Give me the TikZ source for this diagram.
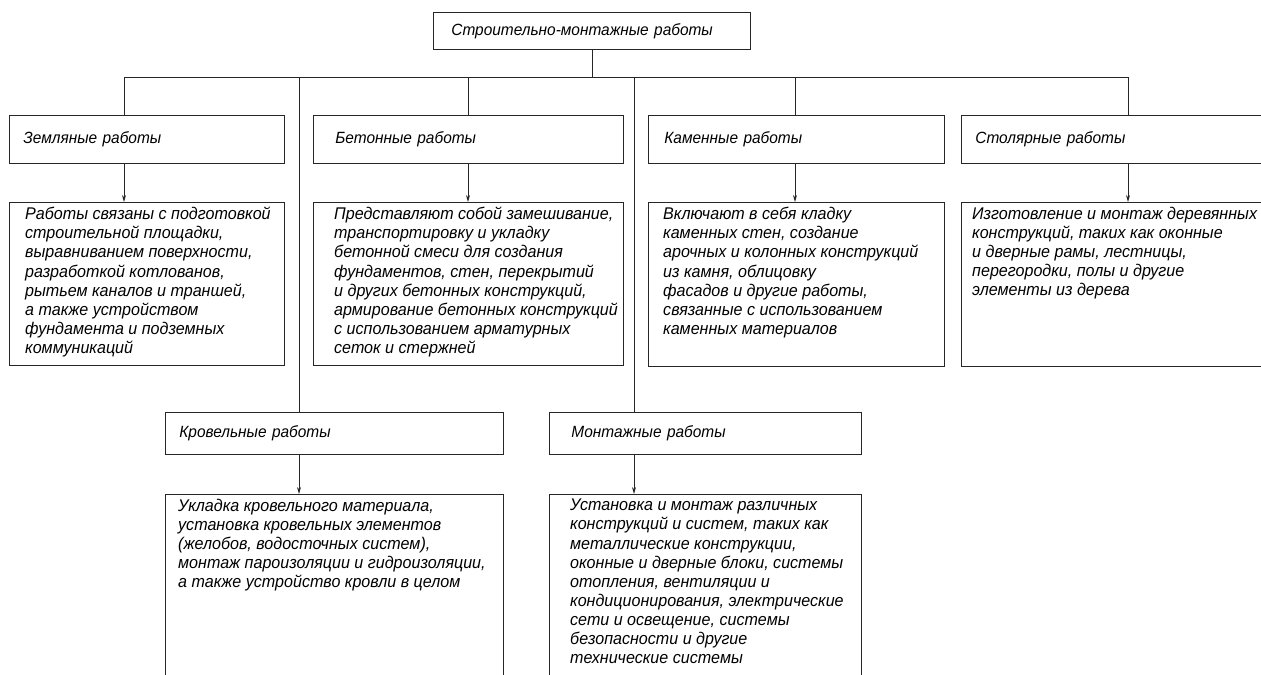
\documentclass[tikz,border=0pt]{standalone}
\usepackage{fontspec}
\setmainfont{Liberation Sans}[FakeStretch=0.95]
\usetikzlibrary{arrows.meta}
\begin{document}
\begin{tikzpicture}[x=1bp, y=-1bp,
  head/.style={draw=black!85, line width=0.8bp, anchor=north west, align=left, inner xsep=14bp, inner ysep=0pt,
    font=\itshape\fontsize{16.3}{19}\selectfont},
  dbox/.style={draw=black!85, line width=0.8bp, anchor=north west, inner sep=0pt},
  dtext/.style={anchor=north west, align=left, inner sep=0pt,
    font=\itshape\fontsize{17}{19.2}\selectfont},
  link/.style={line width=0.8bp, draw=black!85},
  arr/.style={link, -{Stealth[length=7bp, width=4bp]}}]
\useasboundingbox (0,0) rectangle (1261,675);
% top
\node[head, minimum height=37bp, inner xsep=18bp, text width=281bp] (top) at (433,12) {Строительно-монтажные работы};
% first row
\node[head, text width=247bp, minimum height=48bp] (zem) at (9,115) {Земляные работы};
\node[head, minimum height=48bp, inner xsep=22bp, text width=266bp] (bet) at (313,115) {Бетонные работы};
\node[head, minimum height=48bp, inner xsep=16bp, text width=264bp] (kam) at (648,115) {Каменные работы};
\node[head, text width=282bp, minimum height=48bp] (stol) at (961,115) {Столярные работы};
\node[dbox, minimum width=275bp, minimum height=163bp] (zemd) at (9,202) {};
\node[dbox, minimum width=310bp, minimum height=163bp] (betd) at (313,202) {};
\node[dbox, minimum width=296bp, minimum height=164bp] (kamd) at (648,202) {};
\node[dbox, minimum width=310bp, minimum height=164bp] (stold) at (961,202) {};
\node[dtext] at (25,207) {Работы связаны с подготовкой\\строительной площадки,\\выравниванием поверхности,\\разработкой котлованов,\\рытьем каналов и траншей,\\а также устройством\\фундамента и подземных\\коммуникаций};
\node[dtext] at (334,207) {Представляют собой замешивание,\\транспортировку и укладку\\бетонной смеси для создания\\фундаментов, стен, перекрытий\\и других бетонных конструкций,\\армирование бетонных конструкций\\с использованием арматурных\\сеток и стержней};
\node[dtext] at (663,207) {Включают в себя кладку\\каменных стен, создание\\арочных и колонных конструкций\\из камня, облицовку\\фасадов и другие работы,\\связанные с использованием\\каменных материалов};
\node[dtext] at (972,207) {Изготовление и монтаж деревянных\\конструкций, таких как оконные\\и дверные рамы, лестницы,\\перегородки, полы и другие\\элементы из дерева};
% second row
\node[head, text width=310bp, minimum height=42bp] (krov) at (165,412) {Кровельные работы};
\node[head, minimum height=42bp, inner xsep=22bp, text width=268bp] (mont) at (549,412) {Монтажные работы};
\node[dbox, minimum width=338bp, minimum height=200bp] (krovd) at (165,494) {};
\node[dbox, minimum width=312bp, minimum height=200bp] (montd) at (549,494) {};
\node[dtext] at (178,499) {Укладка кровельного материала,\\установка кровельных элементов\\(желобов, водосточных систем),\\монтаж пароизоляции и гидроизоляции,\\а также устройство кровли в целом};
\node[dtext] at (570,499) {Установка и монтаж различных\\конструкций и систем, таких как\\металлические конструкции,\\оконные и дверные блоки, системы\\отопления, вентиляции и\\кондиционирования, электрические\\сети и освещение, системы\\безопасности и другие\\технические системы};
% bus
\coordinate (b1) at (124,77);
\coordinate (b2) at (299,77);
\coordinate (b3) at (468,77);
\coordinate (b4) at (634,77);
\coordinate (b5) at (795,77);
\coordinate (b6) at (1128,77);
\draw[link] (top.south) -- (top.south |- b1);
\draw[link] (b1) -- (b6);
\foreach \b/\n in {b1/zem, b2/krov, b3/bet, b4/mont, b5/kam, b6/stol} {
  \draw[link] (\b) -- (\b |- \n.north);
  \draw[arr] (\b |- \n.south) -- (\b |- \n d.north);
}
\end{tikzpicture}
\end{document}
